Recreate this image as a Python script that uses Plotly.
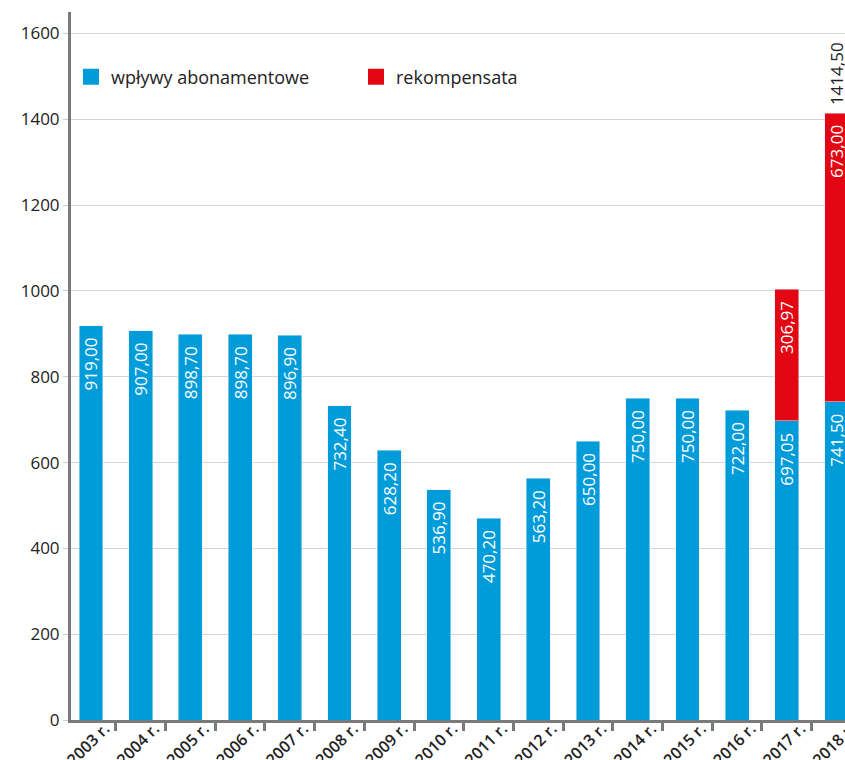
import plotly.graph_objects as go

years = ["2003 r.", "2004 r.", "2005 r.", "2006 r.", "2007 r.", "2008 r.", "2009 r.", "2010 r.",
         "2011 r.", "2012 r.", "2013 r.", "2014 r.", "2015 r.", "2016 r.", "2017 r.", "2018 r."]
abonament = [919.00, 907.00, 898.70, 898.70, 896.90, 732.40, 628.20, 536.90,
             470.20, 563.20, 650.00, 750.00, 750.00, 722.00, 697.05, 741.50]
rekompensata = [None]*14 + [306.97, 673.00]
series_names = ["wpływy abonamentowe", "rekompensata"]

BLUE = "#009CDA"
RED = "#E30613"
FONT = "Open Sans"
PAD = "\u00a0\u00a0"

def fmt(v):
    return f"{v:.2f}".replace(".", ",")

fig = go.Figure()
fig.add_bar(x=years, y=abonament, name=series_names[0], marker_color=BLUE, showlegend=False,
            text=[fmt(v) + PAD for v in abonament], textposition="inside", insidetextanchor="end",
            textangle=-90, insidetextfont=dict(color="white", size=17, family=FONT, weight=500),
            width=0.48)
fig.add_bar(x=years, y=rekompensata, name=series_names[1], marker_color=RED, showlegend=False,
            text=[fmt(v) + PAD if v else "" for v in rekompensata], textposition="inside",
            insidetextanchor="end", textangle=-90,
            insidetextfont=dict(color="white", size=17, family=FONT, weight=500), width=0.48)

# legend entries with larger square symbols
for nm, col in zip(series_names, [BLUE, RED]):
    fig.add_scatter(x=[None], y=[None], mode="markers", name=nm,
                    marker=dict(symbol="square", size=17, color=col))

total_2018 = abonament[-1] + rekompensata[-1]
fig.add_annotation(x=years[-1], y=total_2018, text=fmt(total_2018), textangle=-90,
                   showarrow=False, yanchor="bottom", yshift=6,
                   font=dict(size=17, color="#222222", family=FONT, weight=500))

fig.update_layout(
    width=845, height=760, barmode="stack",
    margin=dict(l=71, r=0, t=12, b=40),
    plot_bgcolor="white", paper_bgcolor="white",
    font=dict(family=FONT, color="#222222", size=15),
    uniformtext=dict(minsize=17, mode="show"),
    legend=dict(orientation="h", x=0.0, y=0.908, xanchor="left", yanchor="middle",
                traceorder="normal", entrywidth=240, itemwidth=30,
                font=dict(size=18, weight=500), bgcolor="rgba(0,0,0,0)"),
    xaxis=dict(range=[-0.402, 15.17], showline=True, linecolor="#7a7a7a", linewidth=3,
               ticks="outside", tickson="boundaries", ticklen=8, tickwidth=3, tickcolor="#7a7a7a",
               tickangle=-45, tickfont=dict(size=16, color="#222222", weight=600),
               ticklabelshift=14, ticklabelstandoff=-10,
               showgrid=False, automargin=False),
    yaxis=dict(range=[0, 1650], showline=True, linecolor="#7a7a7a", linewidth=3,
               tickvals=[0, 200, 400, 600, 800, 1000, 1200, 1400, 1600],
               ticks="outside", ticklen=5, tickcolor="#cccccc", tickwidth=1,
               showgrid=True, gridcolor="#d4d4d4", gridwidth=1, zeroline=False,
               tickfont=dict(size=17, color="#222222", weight=500), automargin=False),
)

fig.write_html("out.html")
